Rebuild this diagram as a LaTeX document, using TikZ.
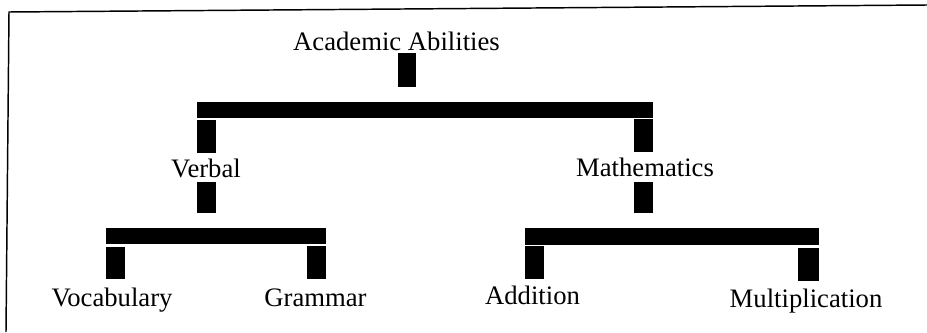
\documentclass[tikz,border=0pt]{standalone}
\usepackage{fontspec}
\setmainfont{Liberation Serif}
\begin{document}
\begin{tikzpicture}[x=0.75pt,y=-0.75pt,
  lbl/.style={inner sep=0pt,anchor=base,font=\fontsize{20}{24}\selectfont},
  blk/.style={fill=black,draw=none},
  frameline/.style={draw=black,line width=1.1pt}]
\useasboundingbox (0,0) rectangle (927,332);
% open frame: top and left edges only
\draw[frameline] (927,5) -- (9,12) -- (6,332);

% labels
\node[lbl] (acad) at (396.5,50) {Academic Abilities};
\node[lbl] (verb) at (206,177) {Verbal};
\node[lbl] (math) at (645,176) {Mathematics};
\node[lbl] (voc)  at (112,306) {Vocabulary};
\node[lbl] (gram) at (315.5,306) {Grammar};
\node[lbl] (add)  at (532.5,304) {Addition};
\node[lbl] (mult) at (806,307) {Multiplication};

% first level: Academic Abilities -> Verbal, Mathematics
\fill[blk] (398,53) rectangle (416,87);
\fill[blk] (197,102) rectangle (653,118);
\fill[blk] (197,120) rectangle (216,153);
\fill[blk] (634,119) rectangle (653,152);

% second level: Verbal -> Vocabulary, Grammar
\fill[blk] (197,182) rectangle (216,213);
\fill[blk] (106,228) rectangle (326,244);
\fill[blk] (106,247) rectangle (125,279);
\fill[blk] (307,246) rectangle (326,279);

% second level: Mathematics -> Addition, Multiplication
\fill[blk] (634,182) rectangle (653,213);
\fill[blk] (525,228) rectangle (819,245);
\fill[blk] (525,246) rectangle (544,279);
\fill[blk] (798,248) rectangle (819,281);
\end{tikzpicture}
\end{document}
